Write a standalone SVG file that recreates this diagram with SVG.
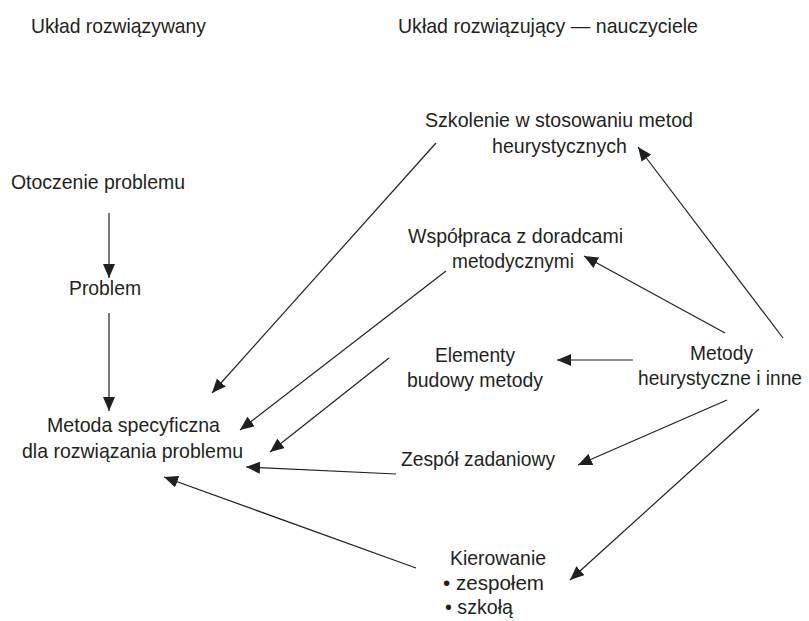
<svg xmlns="http://www.w3.org/2000/svg" width="809" height="621" viewBox="0 0 809 621">
<style>
  text { font-family: "Liberation Sans", Arial, sans-serif; font-size: 21px; fill: #231f20; }
  .c { stroke: #231f20; stroke-width: 1.2; fill: none; marker-end: url(#ah); }
</style>
<defs>
  <marker id="ah" markerUnits="userSpaceOnUse" markerWidth="14" markerHeight="12" viewBox="0 0 14 12" refX="14" refY="6" orient="auto">
    <path d="M0,0 L14,6 L0,12 z" fill="#231f20"/>
  </marker>
</defs>
<rect width="809" height="621" fill="#ffffff"/>

<g id="headings">
  <text x="31" y="33" textLength="175" lengthAdjust="spacingAndGlyphs">Układ rozwiązywany</text>
  <text x="398" y="33" textLength="300" lengthAdjust="spacingAndGlyphs">Układ rozwiązujący — nauczyciele</text>
</g>

<g id="otoczenie">
  <text x="11" y="189" textLength="174" lengthAdjust="spacingAndGlyphs">Otoczenie problemu</text>
</g>
<g id="problem">
  <text x="69" y="295" textLength="72" lengthAdjust="spacingAndGlyphs">Problem</text>
</g>
<g id="metoda">
  <text x="47" y="432" textLength="173" lengthAdjust="spacingAndGlyphs">Metoda specyficzna</text>
  <text x="22" y="458" textLength="221" lengthAdjust="spacingAndGlyphs">dla rozwiązania problemu</text>
</g>
<g id="szkolenie">
  <text x="425" y="127" textLength="268" lengthAdjust="spacingAndGlyphs">Szkolenie w stosowaniu metod</text>
  <text x="492" y="153" textLength="135" lengthAdjust="spacingAndGlyphs">heurystycznych</text>
</g>
<g id="wspolpraca">
  <text x="408" y="243" textLength="215" lengthAdjust="spacingAndGlyphs">Współpraca z doradcami</text>
  <text x="452" y="268" textLength="122" lengthAdjust="spacingAndGlyphs">metodycznymi</text>
</g>
<g id="elementy">
  <text x="435" y="362" textLength="80" lengthAdjust="spacingAndGlyphs">Elementy</text>
  <text x="407" y="387" textLength="136" lengthAdjust="spacingAndGlyphs">budowy metody</text>
</g>
<g id="metody">
  <text x="690" y="360" textLength="63" lengthAdjust="spacingAndGlyphs">Metody</text>
  <text x="638" y="385" textLength="164" lengthAdjust="spacingAndGlyphs">heurystyczne i inne</text>
</g>
<g id="zespol">
  <text x="401" y="466" textLength="154" lengthAdjust="spacingAndGlyphs">Zespół zadaniowy</text>
</g>
<g id="kierowanie">
  <text x="450" y="565" textLength="96" lengthAdjust="spacingAndGlyphs">Kierowanie</text>
  <text x="443" y="590" textLength="101" lengthAdjust="spacingAndGlyphs">• zespołem</text>
  <text x="445" y="614" textLength="68" lengthAdjust="spacingAndGlyphs">• szkołą</text>
</g>

<g id="connectors">
  <line class="c" x1="109" y1="213" x2="109" y2="278"/>
  <line class="c" x1="109" y1="313" x2="109" y2="411"/>
  <line class="c" x1="436" y1="143" x2="212" y2="393"/>
  <line class="c" x1="446" y1="271" x2="240" y2="430"/>
  <line class="c" x1="389" y1="358" x2="270" y2="452"/>
  <line class="c" x1="396" y1="474" x2="246" y2="467"/>
  <line class="c" x1="416" y1="568" x2="164" y2="477"/>
  <line class="c" x1="783" y1="338" x2="638" y2="147"/>
  <line class="c" x1="725" y1="333" x2="584" y2="256"/>
  <line class="c" x1="633" y1="360" x2="557" y2="360"/>
  <line class="c" x1="727" y1="400" x2="578" y2="465"/>
  <line class="c" x1="759" y1="409" x2="570" y2="580"/>
</g>
</svg>
